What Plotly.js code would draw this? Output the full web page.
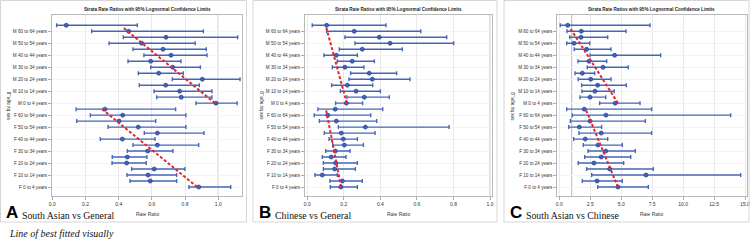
<!DOCTYPE html>
<html>
<head>
<meta charset="utf-8">
<script src="https://cdn.plot.ly/plotly-3.0.1.min.js"></script>
<style>html,body{margin:0;padding:0;background:#fff;}#chart{width:753px;height:241px;}</style>
</head>
<body>
<div id="chart"></div>
<script>
// Categories, bottom (index 0) to top
const categories = [
  "F 0 to 4 years","F 5 to 9 years","F 10 to 14 years","F 15 to 19 years","F 20 to 24 years",
  "F 25 to 29 years","F 30 to 34 years","F 35 to 39 years","F 40 to 44 years","F 45 to 49 years",
  "F 50 to 54 years","F 55 to 59 years","F 60 to 64 years","F 65+ years",
  "M 0 to 4 years","M 5 to 9 years","M 10 to 14 years","M 15 to 19 years","M 20 to 24 years",
  "M 25 to 29 years","M 30 to 34 years","M 35 to 39 years","M 40 to 44 years","M 45 to 49 years",
  "M 50 to 54 years","M 55 to 59 years","M 60 to 64 years","M 65+ years"
];
const tickLabels = categories.filter((c, i) => i % 2 === 0);

// Panel A: South Asian vs General
const estA = [0.882,0.590,0.577,0.614,0.448,0.452,0.575,0.633,0.422,0.633,0.518,0.402,0.424,0.317,
              0.986,0.777,0.767,0.683,0.904,0.641,0.725,0.593,0.715,0.667,0.538,0.685,0.460,0.084];
const loA  = [0.823,0.468,0.450,0.478,0.360,0.361,0.452,0.486,0.289,0.554,0.336,0.147,0.229,0.143,
              0.866,0.629,0.613,0.524,0.723,0.518,0.593,0.456,0.552,0.486,0.342,0.428,0.237,0.026];
const hiA  = [1.075,0.749,0.749,0.799,0.566,0.570,0.727,0.882,0.619,0.914,0.805,0.623,0.805,0.743,
              1.114,0.962,0.962,0.886,1.131,0.789,0.892,0.775,0.932,0.928,0.861,1.117,0.910,0.512];

// Panel B: Chinese vs General
const estB = [0.184,0.192,0.082,0.150,0.155,0.131,0.153,0.203,0.197,0.186,0.318,0.159,0.112,0.153,
              0.214,0.312,0.267,0.219,0.356,0.339,0.206,0.246,0.159,0.301,0.453,0.394,0.257,0.106];
const loB  = [0.126,0.124,0.042,0.088,0.088,0.082,0.101,0.139,0.119,0.093,0.170,0.066,0.038,0.058,
              0.155,0.217,0.181,0.133,0.228,0.237,0.137,0.164,0.091,0.175,0.261,0.206,0.106,0.027];
const hiB  = [0.274,0.301,0.164,0.263,0.274,0.212,0.234,0.307,0.274,0.371,0.776,0.380,0.347,0.413,
              0.303,0.449,0.400,0.358,0.562,0.489,0.310,0.367,0.274,0.520,0.801,0.763,0.621,0.431];

// Panel C: South Asian vs Chinese
const estC = [4.74,3.05,7.00,4.07,2.80,3.39,3.75,3.13,2.10,3.39,1.62,2.48,3.77,2.02,
              4.52,2.48,2.88,3.10,2.54,1.86,3.53,2.40,4.47,2.21,1.19,1.75,1.78,0.68];
const loC  = [3.10,1.86,2.62,2.21,1.53,2.05,2.32,1.94,1.16,1.59,0.76,0.89,1.05,0.60,
              3.26,1.67,1.83,1.81,1.53,1.27,2.26,1.51,2.48,1.21,0.60,0.84,0.62,0.08];
const hiC  = [7.19,5.09,14.65,7.59,5.20,5.77,6.14,5.09,3.91,7.46,3.42,6.95,13.84,7.46,
              6.52,3.75,4.44,5.41,4.18,2.86,5.57,3.83,8.19,4.18,2.46,3.91,5.39,7.33];

// Lines of best fit (fitted visually): row positions and rate-ratio values at ends
const fitRowsF = [0, 13];
const fitRowsM = [14, 26.6];
const fitA_F = [0.873, 0.300];
const fitA_M = [0.980, 0.428];
const fitB_F = [0.185, 0.102];
const fitB_M = [0.216, 0.104];
const fitC_F = [4.74, 2.13];
const fitC_M = [4.74, 0.86];

const panelTitle = "Strata Rate Ratios with 95% Lognormal Confidence Limits";
const panelLetters = ["A", "B", "C"];
const panelCaptions = ["South Asian vs General", "Chinese vs General", "South Asian vs Chinese"];
const footNote = "Line of best fitted visually";

const W = 753, H = 241;
const rowIdx = categories.map((c, i) => i);
const px = v => v / W;
const py = v => 1 - v / H;

const panels = [
  {est: estA, lo: loA, hi: hiA, fF: fitA_F, fM: fitA_M, x0: 52, x1: 242, range: [-0.002, 1.143], dtick: 0.2, fmt: ".1f", frame: [0.5, 246.5]},
  {est: estB, lo: loB, hi: hiB, fF: fitB_F, fM: fitB_M, x0: 305, x1: 492.3, range: [-0.0126, 1.0126], dtick: 0.2, fmt: ".1f", frame: [253, 497]},
  {est: estC, lo: loC, hi: hiC, fF: fitC_F, fM: fitC_M, x0: 557.3, x1: 746.5, range: [-0.16, 15.12], dtick: 2.5, fmt: ".1f", frame: [504, 749]}
];

const plotTop = 15, plotBot = 196;
const blue = "#4566b8";
const traces = [];
const layout = {
  width: W, height: H,
  margin: {l: 0, r: 0, t: 0, b: 0},
  paper_bgcolor: "#fff", plot_bgcolor: "#fff",
  showlegend: false,
  font: {family: "Liberation Sans, Arial, sans-serif", color: "#333"},
  shapes: [], annotations: []
};

panels.forEach((p, k) => {
  const n = k === 0 ? "" : String(k + 1);
  const xa = "x" + n, ya = "y" + n;
  traces.push({
    type: "scatter", mode: "markers", xaxis: xa, yaxis: ya,
    x: p.est, y: rowIdx,
    error_x: {type: "data", symmetric: false,
      array: p.hi.map((h, i) => h - p.est[i]),
      arrayminus: p.lo.map((l, i) => p.est[i] - l),
      color: blue, thickness: 1.4, width: 2},
    marker: {symbol: "circle", size: 4, color: "#3f62c0", line: {color: "#2b4795", width: 0.8}},
    hoverinfo: "skip"
  });
  [[p.fF, fitRowsF], [p.fM, fitRowsM]].forEach(([fx, fy]) => {
    traces.push({
      type: "scatter", mode: "lines", xaxis: xa, yaxis: ya,
      x: fx, y: fy,
      line: {color: "#e8232b", width: 2, dash: "3px,2px"},
      hoverinfo: "skip"
    });
  });
  layout["xaxis" + n] = {
    domain: [px(p.x0), px(p.x1)], anchor: ya, range: p.range,
    dtick: p.dtick, tick0: 0, tickformat: p.fmt,
    showgrid: true, gridcolor: "#e9e9e9", gridwidth: 1, zeroline: false,
    showline: true, mirror: true, linecolor: "#b9b9b9", linewidth: 1,
    ticks: "outside", ticklen: 3, tickcolor: "#aaa",
    tickfont: {size: 5, color: "#333"}
  };
  layout["yaxis" + n] = {
    domain: [py(plotBot), py(plotTop)], anchor: xa, range: [-1.503, 28.72],
    tickmode: "array", tickvals: rowIdx.filter(i => i % 2 === 0), ticktext: tickLabels,
    showgrid: true, gridcolor: "#f3f3f3", zeroline: false,
    showline: true, mirror: true, linecolor: "#b9b9b9", linewidth: 1,
    ticks: "outside", ticklen: 3, tickcolor: "#aaa",
    tickfont: {size: 4.6, color: "#333"}
  };
  // reference line at rate ratio = 1
  layout.shapes.push({type: "line", xref: xa, yref: ya + " domain", x0: 1, x1: 1, y0: 0, y1: 1,
    line: {color: "#c4c4c4", width: 1.2}, layer: "below"});
  // panel frame
  layout.shapes.push({type: "rect", xref: "paper", yref: "paper",
    x0: px(p.frame[0]), x1: px(p.frame[1]), y0: py(222), y1: py(0.5),
    line: {color: "#d6d6d6", width: 1}});
  const cx = px((p.x0 + p.x1) / 2);
  layout.annotations.push(
    {xref: "paper", yref: "paper", x: cx, y: py(10), text: "<b>" + panelTitle + "</b>", showarrow: false,
     xanchor: "center", yanchor: "middle", font: {size: 4.6, color: "#222", family: "Liberation Sans, Arial, sans-serif"}},
    {xref: "paper", yref: "paper", x: cx, y: py(214), text: "Rate Ratio", showarrow: false,
     xanchor: "center", yanchor: "middle", font: {size: 4.9, color: "#333"}},
    {xref: "paper", yref: "paper", x: px(p.frame[0] + 8), y: py(105.5), text: "sex by age_g", showarrow: false,
     textangle: -90, xanchor: "center", yanchor: "middle", font: {size: 4.8, color: "#333"}},
    {xref: "paper", yref: "paper", x: px(p.frame[0] + 3.5), y: py(212.5), text: "<b>" + panelLetters[k] + "</b>", showarrow: false,
     xanchor: "left", yanchor: "middle", font: {size: 17, color: "#000", family: "Liberation Sans, Arial, sans-serif"}},
    {xref: "paper", yref: "paper", x: px(p.frame[0] + 19.5), y: py(215), text: panelCaptions[k], showarrow: false,
     xanchor: "left", yanchor: "middle", font: {size: 9.8, color: "#111", family: "Liberation Serif, Times New Roman, serif"}}
  );
});

layout.annotations.push({xref: "paper", yref: "paper", x: px(6.5), y: py(233), text: "<i>" + footNote + "</i>",
  showarrow: false, xanchor: "left", yanchor: "middle",
  font: {size: 10, color: "#111", family: "Liberation Serif, Times New Roman, serif"}});

Plotly.newPlot("chart", traces, layout, {staticPlot: true, displayModeBar: false});
</script>
</body>
</html>
